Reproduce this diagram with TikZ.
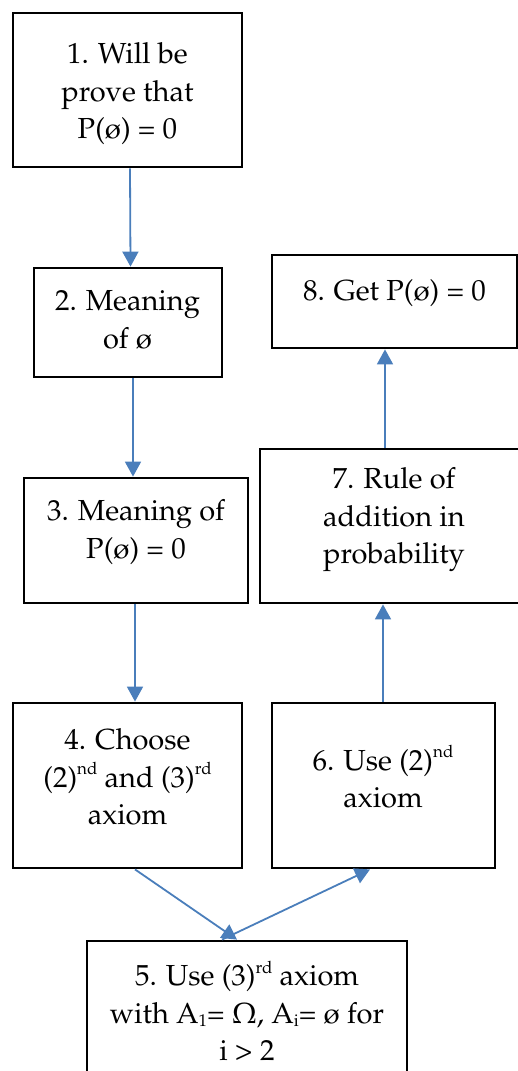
\documentclass[tikz,border=0pt]{standalone}
\usepackage[T1]{fontenc}
\usepackage{mathpazo}
\usetikzlibrary{arrows.meta}
\definecolor{arrowblue}{RGB}{74,126,187}
\newcommand{\supx}[1]{\raisebox{0.9ex}{\fontsize{17}{17}\selectfont #1}}
\newcommand{\subx}[1]{\raisebox{-0.25ex}{\fontsize{17}{17}\selectfont #1}}
\begin{document}
\begin{tikzpicture}[x=1pt,y=-1pt,
  box/.style={draw=black,line width=2.8pt,rectangle,inner sep=0pt},
  lbl/.style={align=center,font=\fontsize{29}{37.5}\selectfont,inner sep=0pt},
  arr/.style={draw=arrowblue,line width=1.8pt,-{Triangle[width=16pt,length=15pt]}}]
\useasboundingbox (0,0) rectangle (518,1071);
\clip (0,0) rectangle (518,1071);
% boxes
\node[box,minimum width=229pt,minimum height=154pt] (n1) at (127.5,90) {};
\node[box,minimum width=188pt,minimum height=109pt] (n2) at (128,322.5) {};
\node[box,minimum width=224pt,minimum height=125pt] (n3) at (136,540.5) {};
\node[box,minimum width=229pt,minimum height=165pt] (n4) at (127.5,785.5) {};
\node[box,minimum width=320pt,minimum height=150pt] (n5) at (247,1016) {};
\node[box,minimum width=223pt,minimum height=165pt] (n6) at (383.5,785.5) {};
\node[box,minimum width=270pt,minimum height=154pt] (n7) at (395,526) {};
\node[box,minimum width=245pt,minimum height=93pt] (n8) at (394.5,301.5) {};
% labels
\node[lbl] (t1) at (127.5,94) {1. Will be\\prove that\\P(\o) = 0};
\node[lbl] (t2) at (127.5,320) {2. Meaning\\of \o};
\node[lbl] (t3) at (136,532) {3. Meaning of\\P(\o) = 0};
\node[lbl] (t4) at (127.5,777) {4. Choose\\(2)\supx{nd} and (3)\supx{rd}\\axiom};
\node[lbl] (t5) at (247,1011) {5. Use (3)\supx{rd} axiom\\with A\subx{1}= $\Omega$, A\subx{i}= \o{} for\\i > 2};
\node[lbl] (t6) at (383,777) {6. Use (2)\supx{nd}\\axiom};
\node[lbl] (t7) at (394,520) {7. Rule of\\addition in\\probability};
\node[lbl] (t8) at (394.5,293) {8. Get P(\o) = 0};
% connectors
\draw[arr] ([xshift=2.5pt]n1.south) -- ([xshift=2.5pt]n2.north);
\draw[arr] ([xshift=5pt]n2.south) -- ([xshift=-3pt]n3.north);
\draw[arr] ([xshift=-1pt]n3.south) -- ([xshift=7.5pt]n4.north);
\draw[arr] ([xshift=7.5pt]n4.south) -- ([xshift=-10pt]n5.north);
\draw[arr] ([xshift=-25pt]n5.north) -- ([xshift=-13.5pt]n6.south);
\draw[arr] ([xshift=-0.5pt]n6.north) -- ([xshift=-12pt]n7.south);
\draw[arr] ([xshift=-10pt]n7.north) -- ([xshift=-9.5pt]n8.south);
\end{tikzpicture}
\end{document}
